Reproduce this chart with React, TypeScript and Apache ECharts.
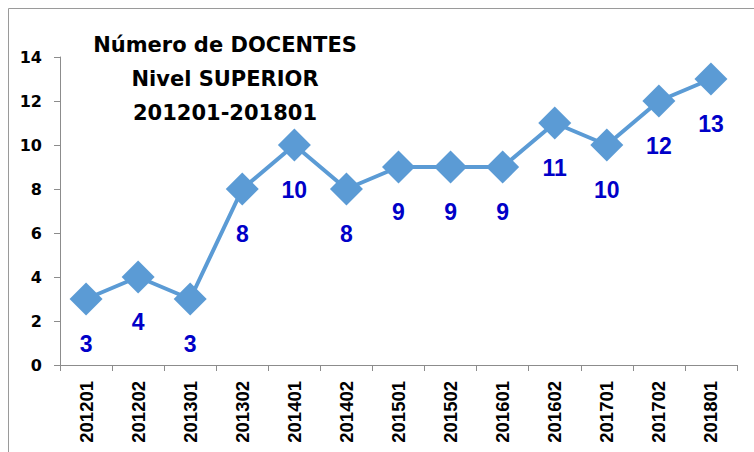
import React, { useEffect, useRef } from "react";
import * as echarts from "echarts";

const categories = ["201201", "201202", "201301", "201302", "201401", "201402", "201501", "201502", "201601", "201602", "201701", "201702", "201801"];
const docentes = [3, 4, 3, 8, 10, 8, 9, 9, 9, 11, 10, 12, 13];
const titleLines = ["Número de DOCENTES", "Nivel SUPERIOR", "201201-201801"];

export default function App() {
  const ref = useRef<HTMLDivElement>(null);
  useEffect(() => {
    if (!ref.current) return;
    const chart = echarts.init(ref.current, null, { renderer: "svg" });
    chart.setOption({
      animation: false,
      backgroundColor: "#ffffff",
      grid: { left: 60, right: 17, top: 57, bottom: 87, containLabel: false },
      graphic: [
        {
          type: "rect",
          shape: { x: 8.5, y: 8.5, width: 800, height: 500 },
          style: { fill: "none", stroke: "#9a9a9a", lineWidth: 1 },
          silent: true,
        },
        {
          type: "text",
          x: 225,
          y: 79,
          style: {
            text: titleLines.join("\n"),
            textAlign: "center",
            textVerticalAlign: "middle",
            fontFamily: "DejaVu Sans",
            fontWeight: "bold",
            fontSize: 21,
            lineHeight: 34,
            fill: "#000000",
          },
        },
      ],
      xAxis: {
        type: "category",
        data: categories,
        boundaryGap: true,
        axisLine: { lineStyle: { color: "#8c8c8c", width: 1 } },
        axisTick: { show: true, length: 6, alignWithLabel: false, lineStyle: { color: "#8c8c8c" } },
        axisLabel: {
          rotate: 90,
          margin: 16,
          color: "#000000",
          fontFamily: "Liberation Sans",
          fontWeight: "bold",
          fontSize: 18.5,
          interval: 0,
        },
        splitLine: { show: false },
      },
      yAxis: {
        type: "value",
        min: 0,
        max: 14,
        interval: 2,
        axisLine: { show: true, lineStyle: { color: "#8c8c8c", width: 1 } },
        axisTick: { show: true, length: 6, lineStyle: { color: "#8c8c8c" } },
        axisLabel: {
          margin: 18,
          color: "#000000",
          fontFamily: "DejaVu Sans",
          fontWeight: "bold",
          fontSize: 16,
        },
        splitLine: { show: false },
      },
      series: [
        {
          type: "line",
          data: docentes,
          smooth: false,
          symbol: "diamond",
          symbolSize: 33,
          lineStyle: { color: "#5B9BD5", width: 4 },
          itemStyle: { color: "#5B9BD5" },
          label: {
            show: true,
            position: "inside",
            offset: [0, 45],
            color: "#0000C8",
            fontFamily: "Liberation Sans",
            fontWeight: "bold",
            fontSize: 23,
          },
        },
      ],
    });
    return () => chart.dispose();
  }, []);
  return (
    <div
      ref={ref}
      style={{ position: "fixed", left: 0, top: 0, width: 754, height: 452 }}
    />
  );
}
